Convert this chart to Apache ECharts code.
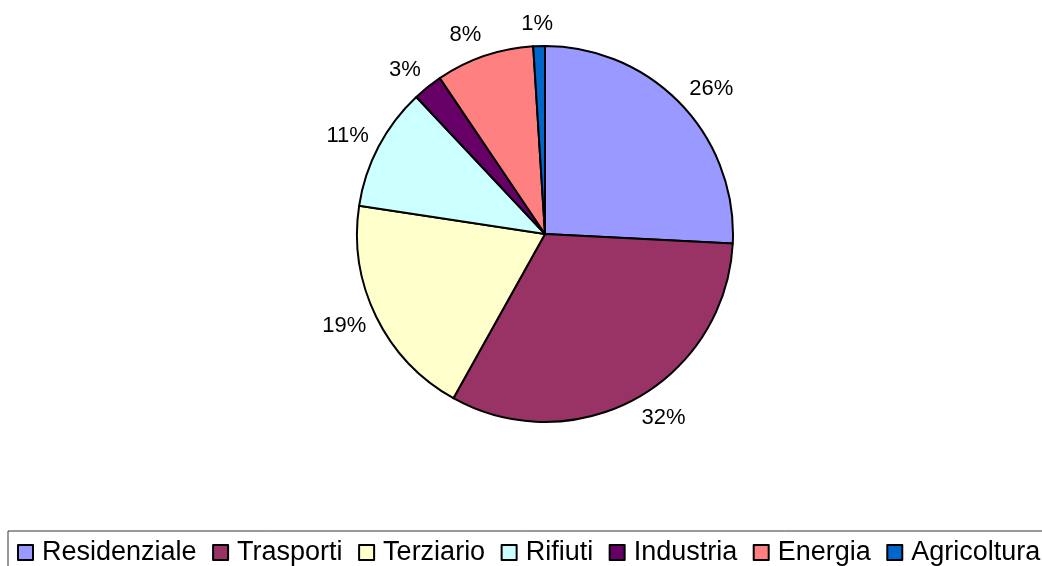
<!DOCTYPE html>
<html>
<head>
<meta charset="utf-8">
<script src="https://cdn.jsdelivr.net/npm/echarts@6/dist/echarts.min.js"></script>
<style>
  html, body { margin: 0; padding: 0; background: #fff; }
  #chart { width: 1042px; height: 566px; }
</style>
</head>
<body>
<div id="chart"></div>
<script>
// settori e quote (%)
var categories = ['Residenziale', 'Trasporti', 'Terziario', 'Rifiuti', 'Industria', 'Energia', 'Agricoltura'];
var shares = [25.8, 32.3, 19.3, 10.6, 2.55, 8.45, 1.0];
var palette = ['#9999FF', '#993366', '#FFFFCC', '#CCFFFF', '#660066', '#FF8080', '#0066CC'];

var FONT = "'Liberation Sans', Arial, sans-serif";
var CENTER = [545, 234];
var RADIUS = 188;
var LABEL_RING = RADIUS + 11;

var chart = echarts.init(document.getElementById('chart'), null, { renderer: 'canvas' });

var pieData = categories.map(function (name, i) {
  return { name: name, value: shares[i] };
});

// sposta l'etichetta (nata al centro della fetta) fuori dal bordo, stile Excel
function outsideEnd(p) {
  var r = p.labelRect;
  var dx = r.x + r.width / 2 - CENTER[0];
  var dy = r.y + r.height / 2 - CENTER[1];
  var len = Math.sqrt(dx * dx + dy * dy) || 1;
  var nx = dx / len, ny = dy / len;
  var ax = Math.max(-1, Math.min(1, nx * 3));
  return {
    x: CENTER[0] + nx * LABEL_RING + ax * r.width / 2,
    y: CENTER[1] + ny * LABEL_RING + ny * r.height / 2
  };
}

var option = {
  animation: false,
  color: palette,
  legend: {
    data: categories,
    left: 8,
    top: 531,
    width: 1200,
    padding: [8, 9, 9, 9],
    borderColor: '#333',
    borderWidth: 1,
    itemWidth: 15,
    itemHeight: 15,
    itemGap: 15.5,
    icon: 'rect',
    selectedMode: false,
    textStyle: { fontFamily: FONT, fontSize: 27, color: '#000', padding: [0, 0, 0, 4] }
  },
  series: [
    {
      name: 'quote',
      type: 'pie',
      center: CENTER,
      radius: RADIUS,
      startAngle: 90,
      clockwise: true,
      avoidLabelOverlap: false,
      silent: true,
      itemStyle: { borderColor: '#000', borderWidth: 2 },
      label: {
        show: true,
        position: 'inside',
        fontFamily: FONT,
        fontSize: 22,
        color: '#000',
        formatter: function (p) { return Math.round(p.percent) + '%'; }
      },
      labelLine: { show: false },
      labelLayout: outsideEnd,
      data: pieData
    }
  ]
};

chart.setOption(option);
</script>
</body>
</html>
